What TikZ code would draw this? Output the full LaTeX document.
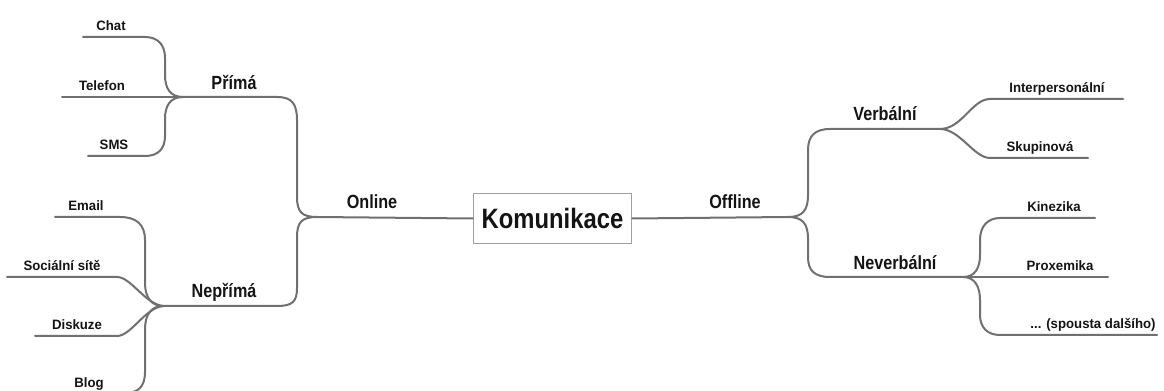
\documentclass[tikz,border=0pt]{standalone}
\usepackage{fontspec}
\newfontfamily\lblfont[FakeStretch=0.85]{Liberation Sans}
\newfontfamily\smlfont[FakeStretch=0.97]{Liberation Sans}
\definecolor{branch}{RGB}{112,112,112}
\definecolor{boxline}{RGB}{160,160,160}
\definecolor{ink}{RGB}{20,20,20}
\begin{document}
\begin{tikzpicture}[x=0.75pt,y=-0.75pt,
  br/.style={draw=branch,line width=1.5pt,line cap=round,line join=round},
  sm/.style={anchor=base,inner sep=0pt,text=ink,font=\smlfont\bfseries\fontsize{10.2pt}{12pt}\selectfont},
  md/.style={anchor=base,inner sep=0pt,text=ink,font=\lblfont\bfseries\fontsize{14.3pt}{17pt}\selectfont},
  rootbox/.style={draw=boxline,line width=0.8pt,fill=white,minimum width=119pt,minimum height=38pt,inner sep=0pt,text=ink,font=\lblfont\bfseries\fontsize{21pt}{25pt}\selectfont}]
\useasboundingbox (0,0) rectangle (1164,391);
\fill[white] (0,0) rectangle (1164,391);
% junctions and line ends
\coordinate (O) at (317,217);
\coordinate (F) at (788,217);
\coordinate (Pj) at (183,97);
\coordinate (Nj) at (163,306);
\coordinate (Vj) at (940,129);
\coordinate (NVj) at (963,277);
\coordinate (eChat) at (83,37);
\coordinate (eTel) at (62,97);
\coordinate (eSMS) at (88,156);
\coordinate (eEmail) at (55,217);
\coordinate (eSoc) at (7,277);
\coordinate (eDisk) at (35,336);
\coordinate (eBlog) at (70,393);
\coordinate (eInt) at (1123,99);
\coordinate (eSkup) at (1088,158);
\coordinate (eKin) at (1095,218);
\coordinate (ePro) at (1108,277);
\coordinate (eSp) at (1157,335);
% root
\node[rootbox] (root) at (552.5,218.5) {Komunikace};
% connectors
\draw[br] (O) -- (root.west);
\draw[br] (root.east) -- (F);
\draw[br] (O) .. controls (302,217) and (297,212) .. (297,197) -- (297,120) .. controls (297,104) and (292,97) .. (277,97) -- (Pj);
\draw[br] (O) .. controls (302,217) and (297,222) .. (297,237) -- (297,288) .. controls (297,302) and (292,306) .. (277,306) -- (Nj);
\draw[br] (Pj) .. controls (170,97) and (165,88) .. (165,75) -- (165,58) .. controls (165,45) and (158,37) .. (145,37) -- (eChat);
\draw[br] (Pj) -- (eTel);
\draw[br] (Pj) .. controls (170,97) and (165,106) .. (165,119) -- (165,136) .. controls (165,149) and (158,156) .. (145,156) -- (eSMS);
\draw[br] (Nj) .. controls (152,306) and (145,298) .. (145,283) -- (145,240) .. controls (145,225) and (137,217) .. (120,217) -- (eEmail);
\draw[br] (Nj) .. controls (145,304) and (131,277) .. (117,277) -- (eSoc);
\draw[br] (Nj) .. controls (145,308) and (131,336) .. (117,336) -- (eDisk);
\draw[br] (Nj) .. controls (152,306) and (145,314) .. (145,329) -- (145,372) .. controls (145,387) and (138,393) .. (125,393) -- (eBlog);
\draw[br] (F) .. controls (803,217) and (808,210) .. (808,195) -- (808,150) .. controls (808,136) and (815,129) .. (830,129) -- (Vj);
\draw[br] (F) .. controls (803,217) and (808,224) .. (808,239) -- (808,257) .. controls (808,271) and (815,277) .. (830,277) -- (NVj);
\draw[br] (Vj) .. controls (962,129) and (972,99) .. (990,99) -- (eInt);
\draw[br] (Vj) .. controls (960,129) and (974,158) .. (990,158) -- (eSkup);
\draw[br] (NVj) .. controls (975,277) and (980,268) .. (980,255) -- (980,240) .. controls (980,226) and (988,218) .. (1000,218) -- (eKin);
\draw[br] (NVj) -- (ePro);
\draw[br] (NVj) .. controls (975,277) and (980,287) .. (980,300) -- (980,315) .. controls (980,328) and (988,335) .. (1000,335) -- (eSp);
% labels
\node[md] (online) at (372,209) {Online};
\node[md] (offline) at (735,209) {Offline};
\node[md] (prima) at (234,90) {Přímá};
\node[md] (neprima) at (224,298) {Nepřímá};
\node[md] (verb) at (885,121) {Verbální};
\node[md] (neverb) at (895,270) {Neverbální};
\node[sm] (chat) at (111,31) {Chat};
\node[sm] (tel) at (102,91) {Telefon};
\node[sm] (sms) at (114,150) {SMS};
\node[sm] (email) at (86,211) {Email};
\node[sm] (soc) at (62,271) {Sociální sítě};
\node[sm] (disk) at (77,330) {Diskuze};
\node[sm] (blog) at (89,388) {Blog};
\node[sm] (inter) at (1057,93) {Interpersonální};
\node[sm] (skup) at (1040,152) {Skupinová};
\node[sm] (kin) at (1054,212) {Kinezika};
\node[sm] (prox) at (1060,271) {Proxemika};
\node[sm] (sp) at (1093,329) {... (spousta dalšího)};
\end{tikzpicture}
\end{document}
